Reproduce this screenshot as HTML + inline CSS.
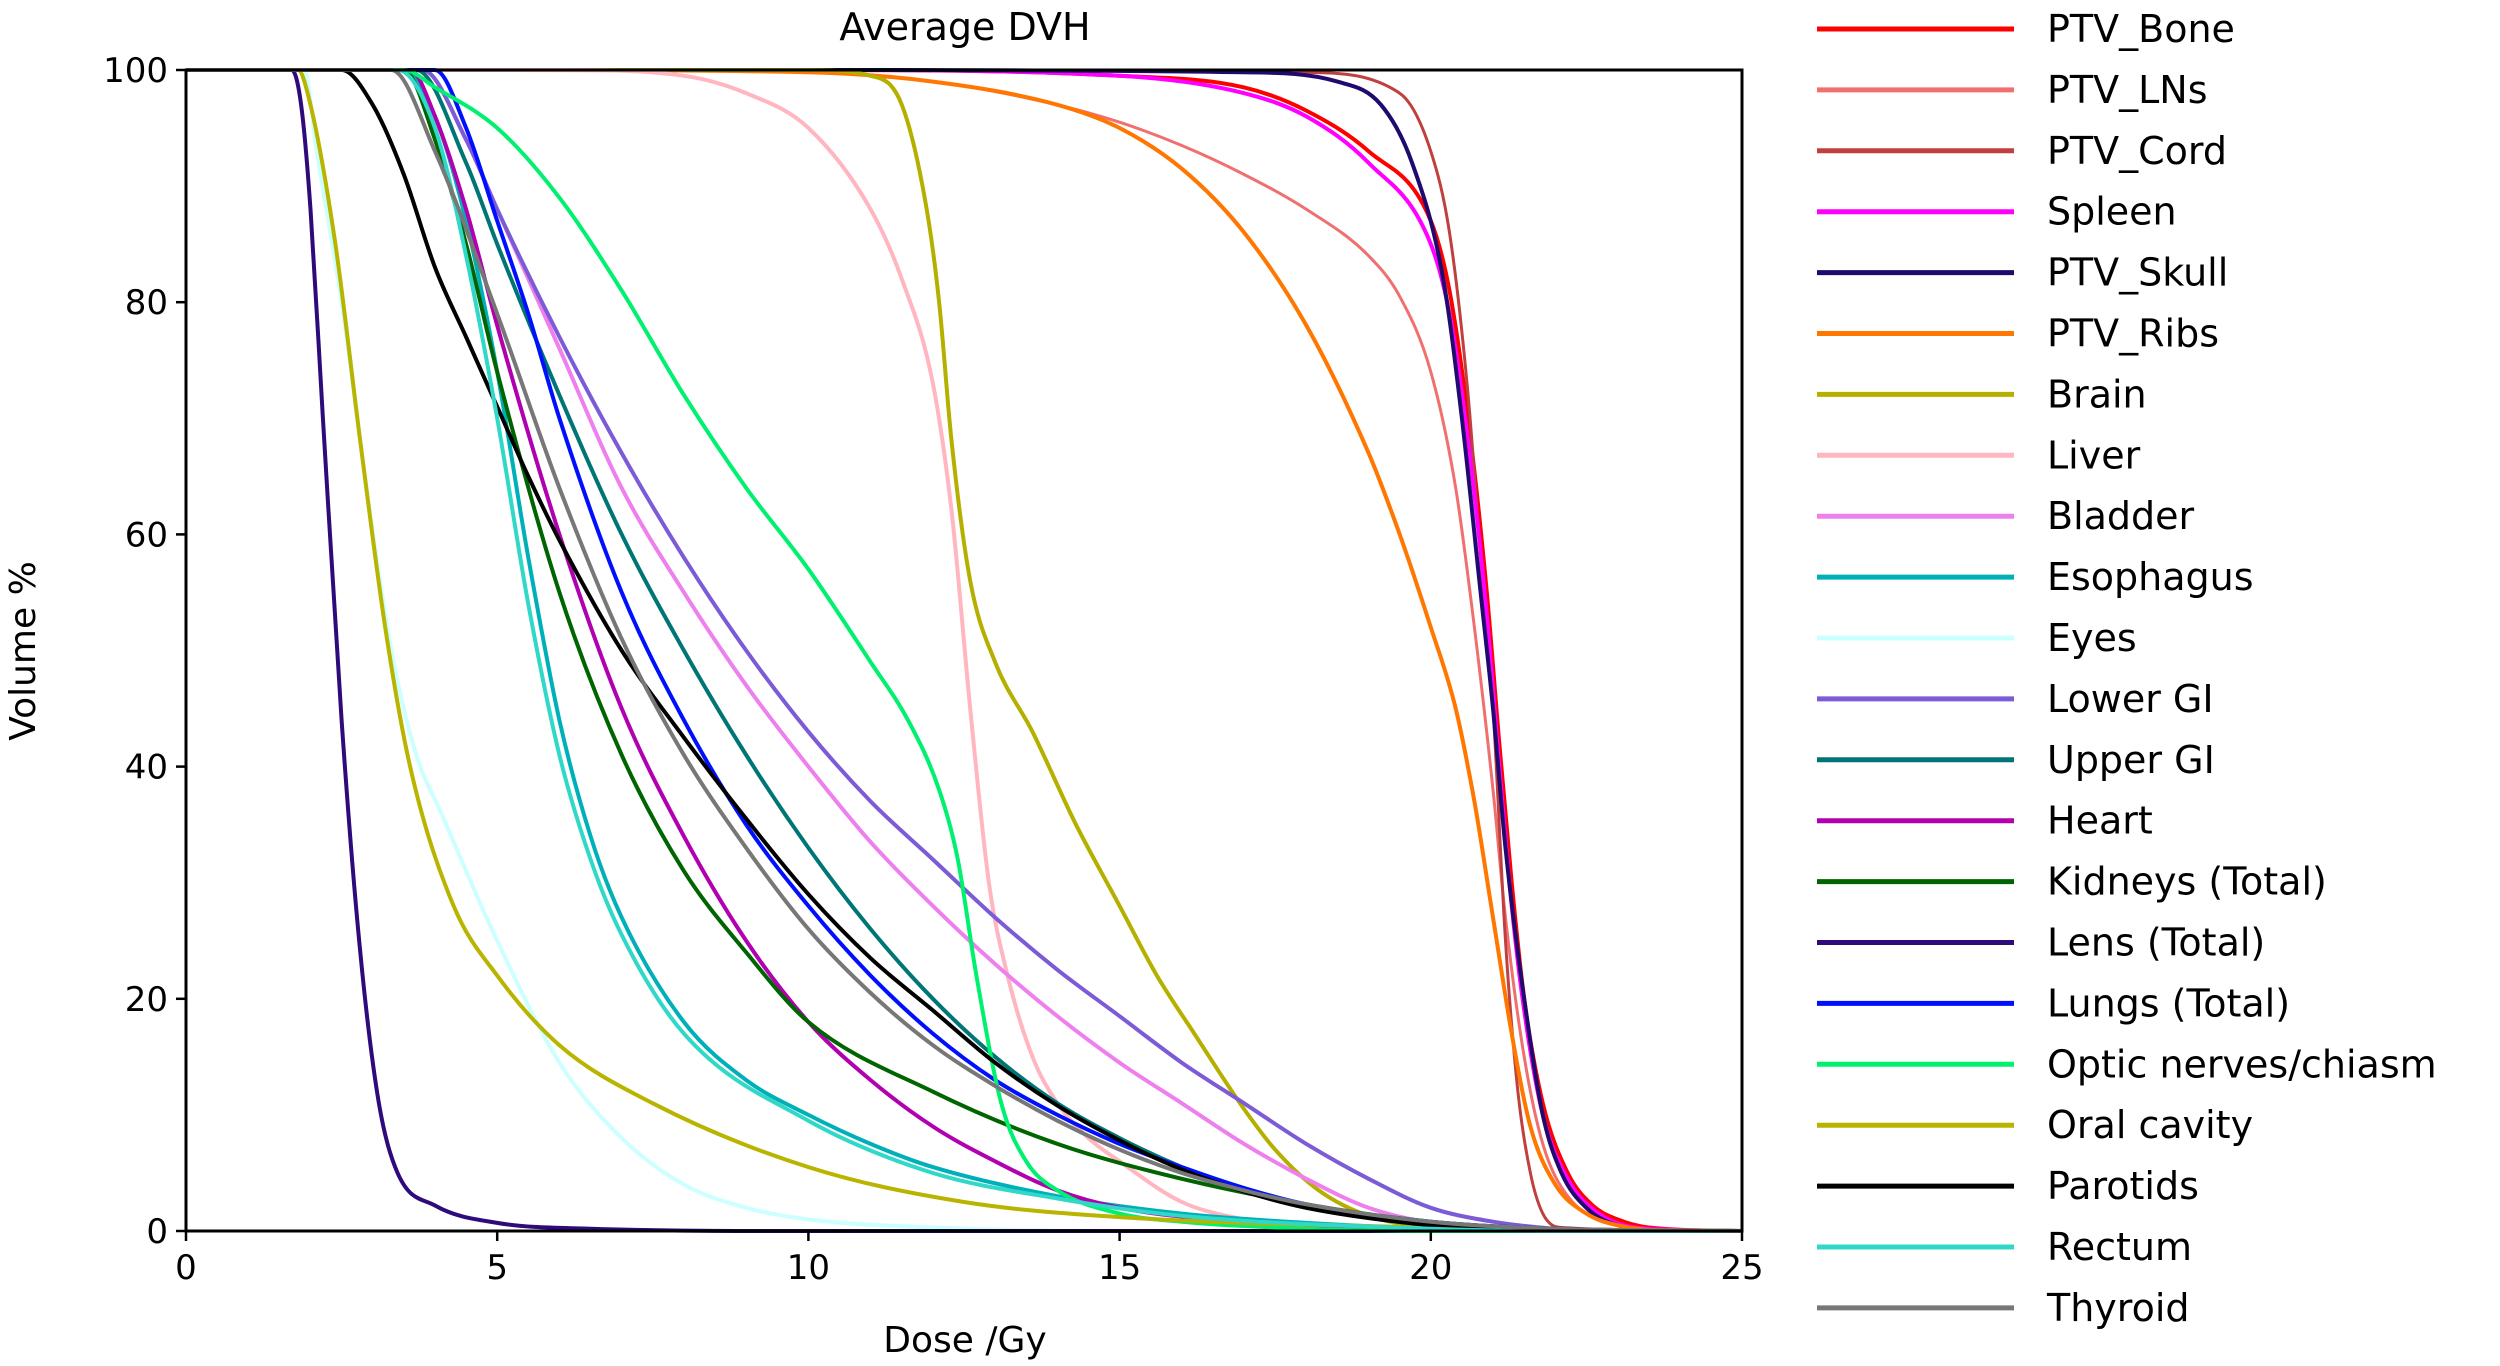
<!DOCTYPE html>
<html><head><meta charset="utf-8">
<style>
html,body{margin:0;padding:0;background:#fff;}
svg{display:block;font-family:"DejaVu Sans","Liberation Sans",sans-serif;}
</style></head>
<body>
<svg id="chart" width="2500" height="1366" viewBox="0 0 2500 1366" xmlns="http://www.w3.org/2000/svg">
<text x="965" y="40" font-size="38" text-anchor="middle">Average DVH</text>
<text transform="translate(35,651) rotate(-90)" font-size="36" text-anchor="middle">Volume %</text>
<text x="965" y="1352" font-size="36" text-anchor="middle">Dose /Gy</text>
<defs><clipPath id="pc"><rect x="186" y="66" width="1558" height="1170"/></clipPath></defs>
<g id="series" clip-path="url(#pc)"></g>
<g id="axes"></g>
<g id="legend"></g>
</svg>
<script>
const xTicks=[0,5,10,15,20,25];
const yTicks=[0,20,40,60,80,100];
const seriesNames=["PTV_Bone","PTV_LNs","PTV_Cord","Spleen","PTV_Skull","PTV_Ribs","Brain","Liver","Bladder","Esophagus","Eyes","Lower GI","Upper GI","Heart","Kidneys (Total)","Lens (Total)","Lungs (Total)","Optic nerves/chiasm","Oral cavity","Parotids","Rectum","Thyroid"];
const seriesColors=["#ff0000","#f07070","#c04040","#ff00ff","#200a70","#ff7700","#b5b000","#ffb6c1","#ee80ee","#00b0b8","#ccffff","#7b5bd6","#007575","#b000b0","#006400","#2e0a7a","#0010ff","#00f070","#b8b400","#000000","#30d8c8","#777777"];
const seriesDose=[
[0,10,15,17,18,19,20,20.3,20.6,20.9,21.1,21.3,21.5,21.8,22.2,22.6,23,23.5,25],
[0,8,12,14,15,16,17,18,19,19.5,20,20.4,20.7,21,21.2,21.5,21.8,22.2,23,24,25],
[0,15,18,19.5,20,20.3,20.6,20.8,21,21.2,21.4,21.6,21.8,22.1,25],
[0,10,15,17,18,19,20,20.3,20.6,20.9,21.1,21.3,21.5,21.8,22.2,22.7,23.5,25],
[0,10,17,18.5,19.2,19.7,20.2,20.5,20.8,21,21.2,21.5,21.8,22.1,22.5,23,24,25],
[0,5,10,12,14,15,16,17,18,19,19.5,20,20.4,20.7,21,21.3,21.6,22,22.5,23,24,25],
[0,10,11,11.5,11.9,12.1,12.3,12.6,13,13.6,14.3,15,15.6,16.2,17,17.5,18.2,19,20,21,25],
[0,6,8,9,10,11,11.5,12,12.3,12.6,12.9,13.2,13.6,14,14.5,15,16,17,18,19,25],
[0,3.8,4.5,5,6,7,8,9,10,11,12,13,14,15,16,17,18,19,20,21,22,25],
[0,3.5,4,4.5,5,5.5,6,6.5,7,8,9,10,11,12,14,16,18,20,22,25],
[0,1.9,2.1,2.5,2.9,3.3,3.7,4.1,4.5,5,6,7,8,9,10,12,15,25],
[0,3.8,4.5,5,6,7,8,9,10,11,12,13,14,15,16,17,18,19,20,21,22,23,25],
[0,3.7,4.5,5,6,7,8,9,10,11,12,13,14,15,16,17,18,20,22,25],
[0,3.6,4,4.5,5,6,7,8,9,10,11,12,13,14,15,17,20,22,25],
[0,3.5,4,4.5,5,6,7,8,9,10,12,14,16,18,20,22,25],
[0,1.7,1.85,2,2.2,2.5,2.8,3.1,3.4,4,5,6.5,10,25],
[0,4,4.5,5,5.5,6,7,8,9,10,11,12,13,14,15,16,17,18,20,22,25],
[0,3.5,4,5,6,7,8,9,10,11,11.6,12.1,12.4,12.7,13.1,13.5,14,15,16,18,20,25],
[0,1.8,2,2.4,2.8,3.2,3.6,4.3,5,6,7.5,10,12.5,15,20,25],
[0,2.5,3,3.5,4,4.5,5,5.5,6,7,8,9,10,11,12,13,14,15,16,17,18,20,22,25],
[0,3.4,4,4.5,5,5.5,6,6.5,7,8,10,12,14,16,20,22,25],
[0,3.3,4,5,6,7,8,9,10,11,12,13,14,15,16,17,18,20,22,25]
];
const seriesVol=[
[100,100,99.5,98.5,96.5,93,87,81,70,55,42,30,20,11,5,2.2,1,0.3,0],
[100,100,99,97,95.5,93.5,91,88,84,80.5,74,64,52,38,27,15,7.5,3,0.5,0,0],
[100,100,99.8,98,93,86,72,58,45,25,12,5,1.5,0.3,0],
[100,100,99.5,98,96,92,85,79,68,53,40,28,19,10,4.5,1.5,0.2,0],
[100,100,99.8,99,97,92,82,70,55,45,33,20,10,5,2,0.5,0,0],
[100,100,99.8,99,97,95,91.5,86,78,67,60,52,45,37,27,17,9,4,1.5,0.5,0,0],
[100,100,99.5,97,88,80,68,56,49,43,35,28,22,17,10.5,7,3.5,1.3,0.3,0,0],
[100,100,99.5,98,95,88,82,73,62,45,30,22,15,11,8,6,2.5,1,0.3,0,0],
[100,100,94,88,76,64,55,47,40,33.5,28,23,18.5,14.5,11,7.5,4.5,2,0.7,0.2,0,0],
[100,100,96,87,74,58,44,34,27,18,13,10,7.5,5.5,3,1.5,0.7,0.2,0,0],
[100,100,93,80,64,50,41,36,31,25,14.5,8,4,2,1,0.3,0,0],
[100,100,94,88,77,67,58,50,43,37,32,27,22.5,18.5,14.5,11,7.5,4.5,2,0.8,0.2,0,0],
[100,100,92,85,72,60,50,41,33,26,20,15,11,8,5.5,3.5,2,0.6,0.1,0],
[100,100,96,88,78,60,45,34,25,18,13,9,6,3.5,2,0.8,0.2,0,0],
[100,100,94,85,74,55,41,31,24,18,12,7.5,4.5,2.3,0.8,0.2,0],
[100,100,97,88,70,44,24,11,5,2.2,0.7,0.2,0,0],
[100,100,95,87,79,70,55,44,35,28,22,17,13,10,7.5,5.5,3.7,2.3,0.8,0.2,0],
[100,100,98.5,95,89,81,72,64,57,49,44,38,32,22,11,6,3.5,1.5,0.8,0.2,0,0],
[100,100,97,85,68,52,40,28,22,16,11,5.5,2.5,1.2,0.3,0],
[100,100,97,91,83,77,71,65,59.5,50,42.5,35.5,29,23.5,19,14.5,10.8,7.8,5.3,3.4,2,0.5,0,0],
[100,100,95,84,70,54,41,32,25.5,17,9.5,5,2.8,1.3,0.2,0,0],
[100,100,93,79,64,51,41,33,26,20.5,16,12.5,9.5,7,5,3.5,2.3,0.8,0.2,0]
];
const X0=186,X1=1742,Y0=1231,Y1=70;
function xs(d){return X0+(d-0)/(25-0)*(X1-X0);}
function ys(v){return Y0-(v-0)/(100-0)*(Y0-Y1);}
const NS="http://www.w3.org/2000/svg";
function mk(tag,attrs,parent){const e=document.createElementNS(NS,tag);for(const k in attrs)e.setAttribute(k,attrs[k]);parent.appendChild(e);return e;}
function monoPath(xa,ya){
  const n=xa.length,d=[],m=[];
  for(let i=0;i<n-1;i++)d.push((ya[i+1]-ya[i])/(xa[i+1]-xa[i]));
  m[0]=d[0];m[n-1]=d[n-2];
  for(let i=1;i<n-1;i++){m[i]=(d[i-1]*d[i]<=0)?0:(d[i-1]+d[i])/2;}
  for(let i=0;i<n-1;i++){if(d[i]===0){m[i]=0;m[i+1]=0;continue;}const a=m[i]/d[i],b=m[i+1]/d[i],s=a*a+b*b;if(s>9){const t=3/Math.sqrt(s);m[i]=t*a*d[i];m[i+1]=t*b*d[i];}}
  let p="M"+xs(xa[0]).toFixed(1)+","+ys(ya[0]).toFixed(1);
  for(let i=0;i<n-1;i++){const h=xa[i+1]-xa[i];
    p+=" C"+xs(xa[i]+h/3).toFixed(1)+","+ys(ya[i]+m[i]*h/3).toFixed(1)+" "+xs(xa[i+1]-h/3).toFixed(1)+","+ys(ya[i+1]-m[i+1]*h/3).toFixed(1)+" "+xs(xa[i+1]).toFixed(1)+","+ys(ya[i+1]).toFixed(1);}
  return p;
}
const sg=document.getElementById("series");
for(let i=0;i<seriesNames.length;i++){
  const p=mk("path",{d:monoPath(seriesDose[i],seriesVol[i]),fill:"none",stroke:seriesColors[i],"stroke-width":(seriesNames[i].startsWith("PTV_Cord")||seriesNames[i]==="PTV_LNs")?3:4},sg);
  
  
}
const ag=document.getElementById("axes");
const frame=mk("rect",{x:X0,y:Y1,width:X1-X0,height:Y0-Y1,fill:"none",stroke:"#000","stroke-width":3},ag);


xTicks.forEach(t=>{
  const l=mk("line",{x1:xs(t),x2:xs(t),y1:Y0,y2:Y0+10,stroke:"#000","stroke-width":2.5},ag);
  
  
  const tx=mk("text",{x:xs(t),y:Y0+48,"font-size":34,"text-anchor":"middle"},ag);tx.textContent=t;
  
  
});
yTicks.forEach(t=>{
  const l=mk("line",{x1:X0-10,x2:X0,y1:ys(t),y2:ys(t),stroke:"#000","stroke-width":2.5},ag);
  
  
  const tx=mk("text",{x:X0-18,y:ys(t)+12,"font-size":34,"text-anchor":"end"},ag);tx.textContent=t;
  
  
});
const lg=document.getElementById("legend");


seriesNames.forEach((n,i)=>{
  const y=29+i*60.9;
  const g=mk("g",{},lg);
  
  
  mk("line",{x1:1817,x2:2014,y1:y,y2:y,stroke:seriesColors[i],"stroke-width":5},g);
  const tx=mk("text",{x:2047,y:y+13,"font-size":38},g);tx.textContent=n;
});
</script>
</body></html>
